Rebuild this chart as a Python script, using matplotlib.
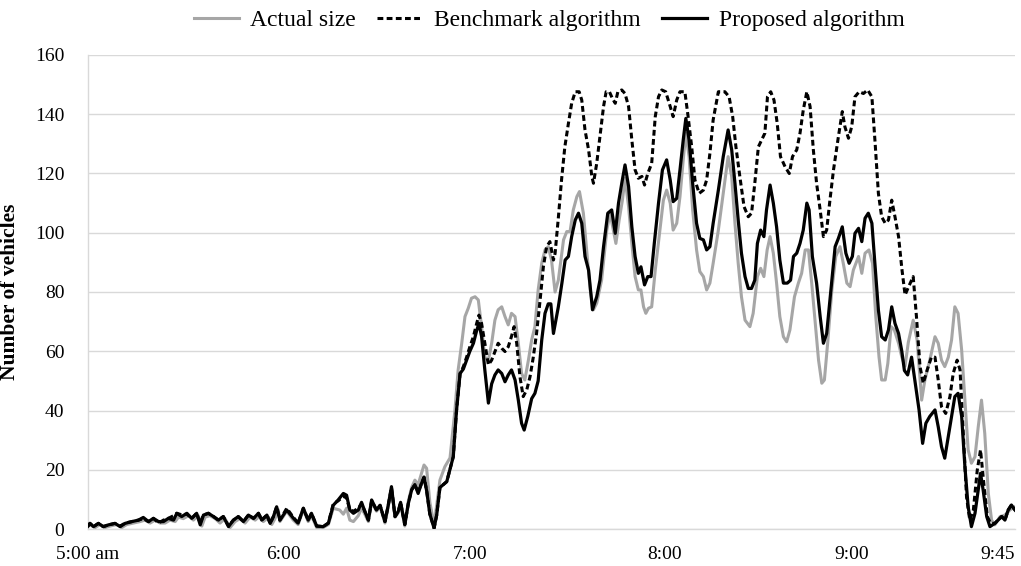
import matplotlib
matplotlib.use("Agg")
import matplotlib.pyplot as plt

# minutes after 5:00 am, number of vehicles
actual = [
(0,0.8),(0.6,1.4),(2.2,0.5),(3.7,1.5),(5.2,0.5),(6.8,1.0),(8.8,1.5),(10.4,0.5),(11.9,1.5),(14.0,2.0),(16.0,2.5),(17.5,3.0),(19.1,2.0),(20.6,3.0),(22.2,2.0),(23.7,2.0),(25.2,3.0),(26.8,2.5),(27.8,4.0),(29.3,3.5),(30.9,4.5),(32.4,3.0),(33.9,4.5),(35.0,1.0),(36.0,4.0),(37.5,4.5),(39.1,3.5),(40.6,2.0),(42.1,3.5),(43.7,0.5),(45.2,2.5),(46.7,3.5),(48.3,2.0),(49.8,4.0),(51.4,3.0),(52.9,4.5),(53.9,2.5),(55.5,4.0),(56.5,1.5),(57.5,3.5),(58.5,6.5),
(59.0,2.5),(61.1,6.0),(63.1,3.0),(64.6,1.5),(66.2,6.5),(67.7,2.5),(68.7,4.5),(70.3,0.5),(72.3,0.5),(73.9,1.5),(75.4,7.0),(77.4,6.4),(78.5,5.0),(79.5,7.0),(80.5,3.0),(81.6,2.5),(83.1,4.5),(84.1,7.0),(85.1,5.0),(86.2,2.5),(87.2,9.0),(88.7,6.0),(89.8,7.5),(91.3,2.0),(92.3,7.5),(93.3,13.5),(94.4,4.0),(95.4,5.5),(96.1,8.5),(97.4,1.0),(98.5,9.5),(99.5,14.0),(100.5,16.5),(101.5,15.0),(102.6,19.0),(103.3,21.6),(104.1,20.5),(105.1,9.0),(106.4,1.5),(107.2,8.0),
(108.2,16.5),(109.7,21.0),(111.3,24.0),(112.8,40.0),(113.8,53.7),(114.9,62.7),(115.9,71.7),(116.9,74.5),(117.9,77.9),(119.0,78.4),(120.0,77.3),(121.0,68.3),(122.0,58.0),(123.1,57.0),(124.1,62.7),(125.1,70.5),(126.1,74.0),(127.2,75.0),(128.2,71.7),(129.2,68.9),(130.2,72.8),(131.3,71.7),(132.3,62.7),(133.3,52.5),(134.3,50.3),(135.4,57.0),(136.4,63.8),(137.4,68.3),(138.4,80.7),(139.5,89.7),(140.5,94.2),(141.5,95.3),(142.5,90.8),(143.6,80.0),(144.6,84.0),
(146.2,97.6),(147.2,100.4),(148.2,100.4),(149.2,107.7),(150.3,112.2),(151.1,113.9),(152.3,106.6),(153.3,94.2),(154.4,80.7),(155.4,74.0),(156.4,76.2),(157.9,84.0),(159.5,100.9),(160.5,106.6),(161.5,100.9),(162.3,96.4),(163.3,104.3),(164.3,111.0),(165.1,118.4),(166.2,108.8),(167.2,96.4),(168.2,85.2),(169.2,80.7),(170.0,80.7),(170.8,75.0),(171.5,72.8),(172.3,74.5),(173.3,75.0),(174.4,87.4),(175.6,98.7),(176.9,111.0),(177.9,114.4),(179.0,110.0),
(179.9,100.9),(181.0,103.2),(182.0,112.2),(183.0,124.6),(183.8,133.6),(184.8,125.7),(185.9,107.7),(187.1,94.2),(188.1,86.9),(189.2,85.2),(190.2,80.7),(191.2,83.0),(192.2,89.7),(193.8,100.9),(195.3,113.3),(196.8,125.7),(197.9,118.9),(198.9,103.2),(199.9,89.7),(200.9,78.4),(202.0,70.5),(203.5,68.3),(204.5,72.8),(205.8,85.2),(206.8,88.0),(207.8,85.2),(208.8,94.2),(209.7,98.7),(210.7,93.1),(211.7,83.0),(212.7,71.7),(213.8,64.9),(214.8,63.2),(215.8,67.2),
(217.2,78.4),(218.4,83.0),(219.4,86.3),(220.5,94.2),(221.5,94.2),(222.5,83.0),(223.5,70.5),(224.6,57.0),(225.6,49.2),(226.4,50.3),(227.4,62.7),(228.7,80.7),(229.9,92.0),(231.2,95.3),(232.2,89.7),(233.3,83.0),(234.3,81.8),(235.3,87.4),(236.9,92.0),(237.9,86.3),(238.9,93.1),(240.1,94.2),(241.2,89.7),(242.2,71.7),(243.2,58.0),(244.0,50.3),(245.1,50.3),(245.9,55.9),(246.9,68.3),(247.9,67.2),(249.2,62.7),(250.2,58.0),(251.2,55.0),(252.2,63.0),(253.7,70.5),(254.9,63.8),(256.3,43.5),(257.3,50.3),(258.8,57.0),(260.4,64.9),(261.4,62.7),(262.4,57.0),(263.4,54.8),(264.5,58.0),(265.5,63.8),(266.5,75.0),(267.5,72.8),(268.6,60.4),(269.6,43.5),(270.6,26.7),(271.6,22.2),(272.7,24.4),(273.7,34.5),(274.7,43.5),(275.7,32.3),(276.8,12.0),(277.8,3.0),(278.8,1.4),(280.4,4.2),(281.9,4.7),(283.4,6.4),(285.0,7.5)]

benchmark = [
(0,1.0),(0.6,1.9),(1.7,0.8),(3.2,1.9),(4.7,0.8),(6.3,1.4),(8.3,1.9),(9.9,1.0),(11.4,2.0),(13.5,2.5),(15.5,3.0),(17.0,3.5),(18.6,2.5),(20.1,3.6),(21.7,2.0),(23.2,3.0),(24.7,3.6),(26.3,4.5),(27.3,5.3),(28.8,4.8),(30.4,5.0),(31.9,3.6),(33.4,5.3),(34.5,2.0),(35.5,4.7),(37.0,5.3),(38.6,4.2),(40.1,3.0),(41.6,4.2),(43.2,1.0),(44.7,3.0),(46.2,4.2),(47.8,2.5),(49.3,4.7),(50.9,3.6),(52.4,5.3),(53.4,3.0),(55.0,4.7),(56.0,1.9),(57.0,4.2),(58.0,7.5),(59.0,3.0),(61.1,7.0),(63.1,4.0),(64.6,2.0),(66.2,7.0),(67.7,3.0),(68.7,5.3),(70.3,1.0),(72.3,0.8),(73.9,2.0),(75.4,8.5),(76.9,9.5),(78.5,11.0),(79.5,10.5),(80.5,6.5),(81.6,6.0),(83.1,7.0),(84.1,8.5),(85.1,6.0),(86.2,3.0),(87.2,9.5),(88.7,6.4),(89.8,8.0),(91.3,2.5),(92.3,8.0),(93.3,14.0),(94.4,4.2),(95.4,6.0),(96.1,9.0),(97.4,1.5),(98.5,8.7),(99.5,13.2),(100.5,15.0),(101.5,12.5),(102.6,15.6),(103.3,17.5),(104.1,13.0),(105.1,5.0),(106.4,0.3),(107.2,4.7),(108.2,14.0),(110.3,16.0),(112.3,24.4),
(113.3,40.0),(114.4,52.5),(115.4,54.8),(116.4,58.0),(117.4,61.5),(118.5,65.0),(119.5,69.4),(120.2,72.2),(121.0,69.4),(122.0,62.7),(123.1,55.4),(124.1,57.0),(125.1,59.9),(126.1,62.7),(127.2,61.0),(128.2,59.9),(129.2,61.5),(130.2,65.0),(131.0,68.3),(131.8,62.7),(132.8,51.4),(133.8,44.7),(134.9,47.0),(135.9,51.4),(136.9,58.0),(137.9,66.0),(139.0,77.3),(140.0,88.5),(141.0,95.3),(142.0,97.0),(143.1,90.8),(143.6,93.0),(144.6,105.0),(145.6,118.0),(146.6,129.0),
(147.7,136.9),(148.7,143.7),(149.8,147.6),(151.0,147.6),(151.8,144.8),(152.8,134.7),(153.9,128.0),(154.9,119.0),(155.4,116.7),(156.4,123.4),(157.4,132.4),(158.5,142.6),(159.3,147.6),(160.3,147.6),(161.2,145.4),(162.1,143.7),(162.9,147.6),(164.1,148.2),(165.1,147.0),(166.2,142.6),(167.2,131.3),(168.2,121.2),(169.2,118.4),(170.3,119.0),(171.1,116.1),(172.1,120.0),(173.3,123.4),(174.4,139.2),(175.4,145.9),(176.4,148.2),(177.6,147.6),(179.0,142.6),
(179.9,139.2),(181.0,144.8),(182.0,147.6),(183.5,147.6),(184.5,139.2),(185.6,129.0),(186.6,117.8),(187.9,113.3),(189.2,114.4),(190.2,117.8),(191.2,126.8),(192.2,138.1),(193.8,147.6),(195.8,147.6),(197.1,145.9),(198.2,139.2),(199.2,129.0),(200.4,119.0),(201.7,108.8),(203.0,105.4),(204.0,106.6),(205.0,116.7),(206.1,129.0),(207.1,131.3),(208.1,133.6),(208.9,145.9),(209.9,147.6),(210.9,144.8),(211.9,136.9),(212.9,125.7),(214.3,122.3),(215.6,120.0),
(216.6,125.7),(217.9,128.0),(218.9,133.6),(219.9,141.4),(221.0,147.6),(222.0,142.6),(223.0,128.0),(224.0,116.7),(225.1,107.7),(226.1,98.7),(227.1,100.9),(228.1,111.0),(229.2,121.2),(230.7,132.4),(231.9,140.9),(232.7,135.8),(233.8,131.9),(234.8,135.8),(235.8,145.9),(237.1,147.6),(238.4,147.0),(239.7,148.2),(241.0,145.9),(242.0,130.2),(243.0,113.3),(244.0,105.4),(245.1,103.2),(246.1,104.3),(247.1,111.0),(248.1,105.4),(249.2,98.7),(250.2,88.0),(251.2,79.0),(252.3,81.8),(253.7,85.2),(254.7,71.7),(255.8,54.8),(256.8,49.2),(258.0,53.7),(259.3,58.0),(260.4,58.0),(261.4,50.3),(262.4,41.3),(263.7,39.0),(265.0,44.7),(266.0,52.5),(267.2,57.0),(268.1,53.7),(269.1,32.3),(270.1,10.8),(271.1,3.0),(272.2,6.4),(273.4,19.9),(274.4,26.7),(275.4,15.4),(276.5,4.2),(277.5,1.9),(278.8,1.9),(279.8,3.0),(280.9,4.2),(281.9,3.0),(282.9,6.4),(283.9,8.1),(285.0,6.4)]

proposed = [
(0,1.0),(0.6,1.9),(1.7,0.8),(3.2,1.9),(4.7,0.8),(6.3,1.4),(8.3,1.9),(9.9,0.8),(11.4,1.9),(13.5,2.5),(15.5,3.0),(17.0,3.9),(18.6,2.5),(20.1,3.6),(21.7,2.5),(23.2,2.5),(24.7,3.6),(26.3,3.0),(27.3,5.3),(28.8,4.2),(30.4,5.3),(31.9,3.6),(33.4,5.3),(34.5,1.4),(35.5,4.7),(37.0,5.3),(38.6,4.2),(40.1,3.0),(41.6,4.2),(43.2,0.8),(44.7,3.0),(46.2,4.2),(47.8,2.5),(49.3,4.7),(50.9,3.6),(52.4,5.3),(53.4,3.0),(55.0,4.7),(56.0,1.9),(57.0,4.2),(58.0,7.5),
(59.0,3.0),(61.1,6.4),(63.1,3.7),(64.6,2.0),(66.2,7.0),(67.7,3.0),(68.7,5.3),(70.3,1.0),(72.3,0.8),(73.9,2.0),(75.4,8.0),(76.9,9.8),(78.5,12.0),(79.5,11.4),(80.5,6.4),(81.6,5.3),(83.1,6.4),(84.1,9.0),(85.1,6.0),(86.2,3.0),(87.2,9.8),(88.7,6.4),(89.8,8.0),(91.3,2.5),(92.3,8.0),(93.3,14.3),(94.4,4.2),(95.4,6.0),(96.1,9.0),(97.4,1.5),(98.5,8.7),(99.5,13.2),(100.5,15.0),(101.5,12.0),(102.6,15.6),(103.3,17.5),(104.1,13.0),(105.1,5.0),(106.4,0.3),(107.2,4.7),
(108.2,14.0),(110.3,16.0),(112.3,24.4),(113.3,40.0),(114.4,52.5),(115.4,54.0),(116.4,57.0),(117.4,60.0),(118.5,62.7),(119.5,67.0),(120.2,69.4),(121.0,65.0),(122.0,53.7),(123.1,42.5),(124.1,49.0),(125.1,52.0),(126.1,53.7),(127.2,52.5),(128.2,49.7),(129.2,52.0),(130.2,53.7),(131.3,50.3),(132.3,43.5),(133.3,35.7),(134.1,33.4),(135.2,38.0),(136.4,44.0),(137.4,45.8),(138.4,50.0),(139.5,63.8),(140.5,72.8),(141.5,76.0),(142.3,76.0),(143.1,66.0),
(144.6,75.0),(145.7,83.0),(146.7,90.8),(147.7,92.0),(148.7,98.7),(149.8,104.3),(150.8,106.6),(151.8,103.2),(152.8,92.0),(153.9,87.4),(155.1,74.0),(156.4,78.4),(157.4,84.0),(158.5,95.3),(159.8,106.6),(161.0,107.7),(162.1,99.8),(163.1,110.0),(164.1,116.7),(165.1,122.9),(166.2,115.6),(167.2,102.0),(168.2,92.0),(169.2,86.3),(170.0,88.5),(171.1,82.4),(172.1,85.2),(173.1,85.2),(174.1,96.4),(175.4,110.0),(176.6,121.2),(177.9,124.6),(179.0,117.8),
(179.9,110.5),(181.0,111.6),(182.0,121.2),(183.0,131.3),(183.8,138.6),(184.8,131.3),(185.9,116.7),(187.1,103.2),(188.1,98.1),(189.2,97.6),(190.2,94.2),(191.2,95.3),(192.2,103.2),(193.8,114.4),(195.3,125.7),(196.8,134.7),(197.9,128.0),(198.9,116.7),(199.9,104.3),(200.9,93.1),(202.0,85.2),(203.0,81.2),(204.0,81.2),(205.0,84.0),(205.8,96.4),(206.8,100.9),(207.8,98.7),(208.6,107.7),(209.7,116.1),(210.7,110.0),(211.7,102.0),(212.7,90.8),(213.8,83.0),(215.0,83.0),(216.0,84.0),
(216.9,92.0),(217.9,93.1),(218.9,96.4),(219.9,100.9),(221.0,110.0),(221.7,107.7),(222.7,92.0),(224.0,83.0),(225.1,71.7),(226.1,62.7),(227.1,66.0),(228.1,77.3),(229.7,95.3),(230.7,98.1),(231.9,102.0),(233.0,93.1),(234.0,89.7),(235.0,92.0),(235.8,99.8),(236.9,101.5),(237.9,97.0),(238.9,104.9),(239.9,106.6),(241.0,103.2),(242.0,88.5),(243.0,73.9),(244.0,64.9),(245.1,63.8),(246.1,67.2),(247.1,75.0),(248.1,69.4),(249.2,66.0),(250.2,60.0),(251.0,53.5),(252.0,52.0),
(253.2,58.0),(254.2,50.3),(255.5,40.2),(256.6,28.9),(257.6,35.7),(258.8,38.0),(260.4,40.2),(261.4,34.5),(262.4,27.8),(263.4,23.9),(264.5,31.2),(265.5,38.0),(266.5,44.7),(267.5,45.8),(268.6,38.0),(269.6,21.0),(270.6,7.5),(271.6,0.8),(272.7,5.3),(273.7,13.2),(274.4,18.8),(275.2,13.2),(276.3,4.2),(277.3,0.8),(278.8,1.9),(279.8,3.0),(280.9,4.2),(281.9,3.0),(282.9,6.4),(283.9,8.1),(285.0,6.4)]

series_names = ["Actual size", "Benchmark algorithm", "Proposed algorithm"]
tick_minutes = [0, 60, 117.4, 177.4, 234.9, 279.7]
tick_labels = ["5:00 am", "6:00", "7:00", "8:00", "9:00", "9:45"]
y_ticks = [0, 20, 40, 60, 80, 100, 120, 140, 160]

plt.rcParams['font.family'] = ['Liberation Serif', 'DejaVu Serif']

fig = plt.figure(figsize=(10.21, 5.66), dpi=100)
ax = fig.add_axes([88/1021, 1 - 529/566, 927/1021, 474/566])

def split(pairs):
    return [p[0] for p in pairs], [p[1] for p in pairs]

x, y = split(actual)
ax.plot(x, y, color='#A6A6A6', lw=2.2, label=series_names[0], zorder=3)
x, y = split(benchmark)
ax.plot(x, y, color='black', lw=2.2, ls=(0, (1.9, 1.1)), label=series_names[1], zorder=4)
x, y = split(proposed)
ax.plot(x, y, color='black', lw=2.3, label=series_names[2], zorder=5)

ax.set_xlim(0, 285)
ax.set_ylim(0, 160)
ax.set_yticks(y_ticks)
ax.set_xticks(tick_minutes)
ax.set_xticklabels(tick_labels)
ax.yaxis.grid(True, color='#D9D9D9', lw=1.0)
ax.set_axisbelow(True)
for s in ['top', 'right']:
    ax.spines[s].set_visible(False)
for s in ['left', 'bottom']:
    ax.spines[s].set_color('#D9D9D9')
    ax.spines[s].set_linewidth(1.0)
ax.tick_params(axis='both', length=0, labelsize=14)
ax.tick_params(axis='x', pad=12)
ax.tick_params(axis='y', pad=17)
ax.set_ylabel("Number of vehicles", fontsize=15.5, fontweight='bold')
ax.yaxis.set_label_coords(-0.073, 0.5)

fig.legend(loc='center', bbox_to_anchor=(549/1021, 1 - 20/566), ncol=3, frameon=False,
           fontsize=17, handlelength=1.9, columnspacing=0.9, handletextpad=0.5)

fig.savefig("out.png", dpi=100)
